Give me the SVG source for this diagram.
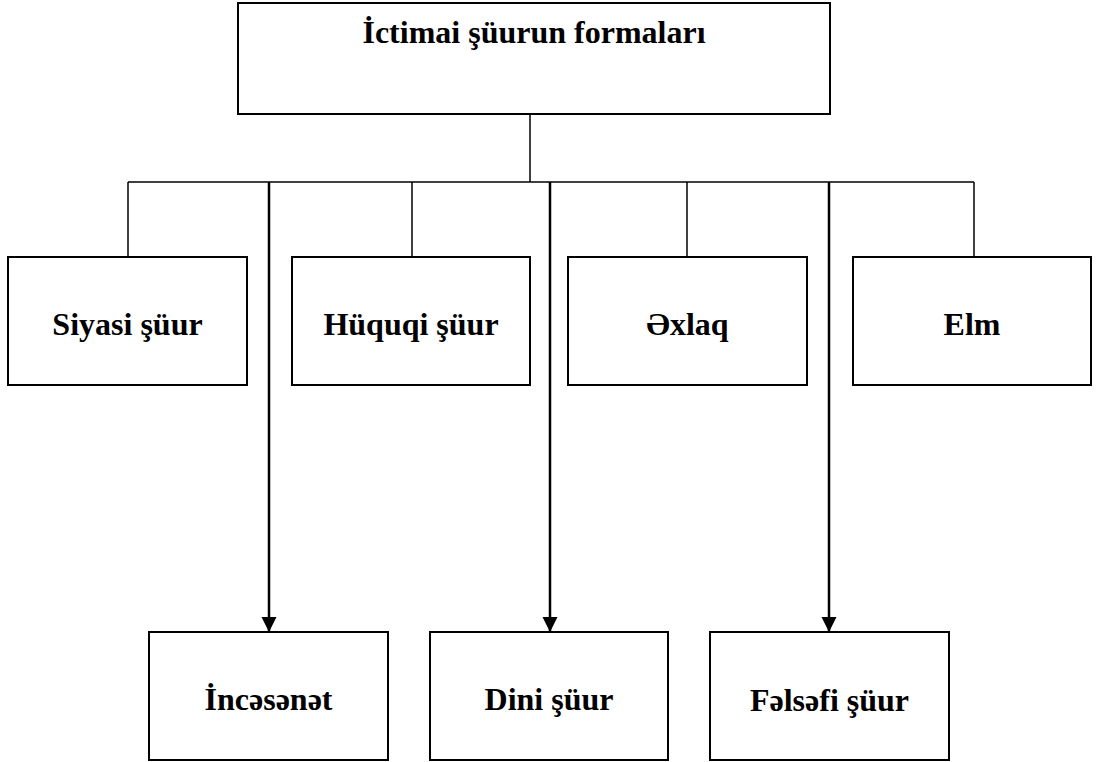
<svg xmlns="http://www.w3.org/2000/svg" width="1096" height="762" viewBox="0 0 1096 762">
<style>
.box{fill:#fff;stroke:#000;stroke-width:2}
.t{font-family:'Liberation Serif','Times New Roman','DejaVu Serif',serif;font-weight:700;font-size:32px;fill:#000;text-anchor:middle}
.ln{stroke:#000;stroke-width:1.5;fill:none}
.ar{stroke:#000;stroke-width:2.5;fill:none}
</style>
<defs>
<marker id="ah" markerUnits="userSpaceOnUse" markerWidth="16" markerHeight="16" refX="15" refY="8" orient="auto">
<path d="M0,0.5 L15,8 L0,15.5 Z" fill="#000"/>
</marker>
</defs>
<rect width="1096" height="762" fill="#fff"/>
<g id="connectors">
<line class="ln" x1="530" y1="114" x2="530" y2="182"/>
<line class="ln" x1="128" y1="182" x2="974" y2="182"/>
<line class="ln" x1="128" y1="182" x2="128" y2="257"/>
<line class="ln" x1="412" y1="182" x2="412" y2="257"/>
<line class="ln" x1="687" y1="182" x2="687" y2="257"/>
<line class="ln" x1="974" y1="182" x2="974" y2="257"/>
<line class="ar" x1="269" y1="182" x2="269" y2="632" marker-end="url(#ah)"/>
<line class="ar" x1="550" y1="182" x2="550" y2="632" marker-end="url(#ah)"/>
<line class="ar" x1="829" y1="182" x2="829" y2="632" marker-end="url(#ah)"/>
</g>
<g id="root"><rect class="box" x="238" y="3" width="592" height="111"/><text class="t" font-family="Liberation Serif, serif" x="534" y="43">İctimai şüurun formaları</text></g>
<g id="siyasi"><rect class="box" x="8" y="257" width="239" height="128"/><text class="t" font-family="Liberation Serif, serif" x="127.5" y="335">Siyasi şüur</text></g>
<g id="huquqi"><rect class="box" x="292" y="257" width="238" height="128"/><text class="t" font-family="Liberation Serif, serif" x="411" y="335">Hüquqi şüur</text></g>
<g id="exlaq"><rect class="box" x="568" y="257" width="239" height="128"/><text class="t" font-family="Liberation Serif, serif" x="687.5" y="335">Əxlaq</text></g>
<g id="elm"><rect class="box" x="853" y="257" width="238" height="128"/><text class="t" font-family="Liberation Serif, serif" x="972" y="335">Elm</text></g>
<g id="incesenet"><rect class="box" x="149" y="632" width="239" height="128"/><text class="t" font-family="Liberation Serif, serif" x="268.5" y="710">İncəsənət</text></g>
<g id="dini"><rect class="box" x="430" y="632" width="238" height="128"/><text class="t" font-family="Liberation Serif, serif" x="549" y="710">Dini şüur</text></g>
<g id="felsefi"><rect class="box" x="710" y="632" width="239" height="128"/><text class="t" font-family="Liberation Serif, serif" x="829.5" y="711">Fəlsəfi şüur</text></g>
</svg>
